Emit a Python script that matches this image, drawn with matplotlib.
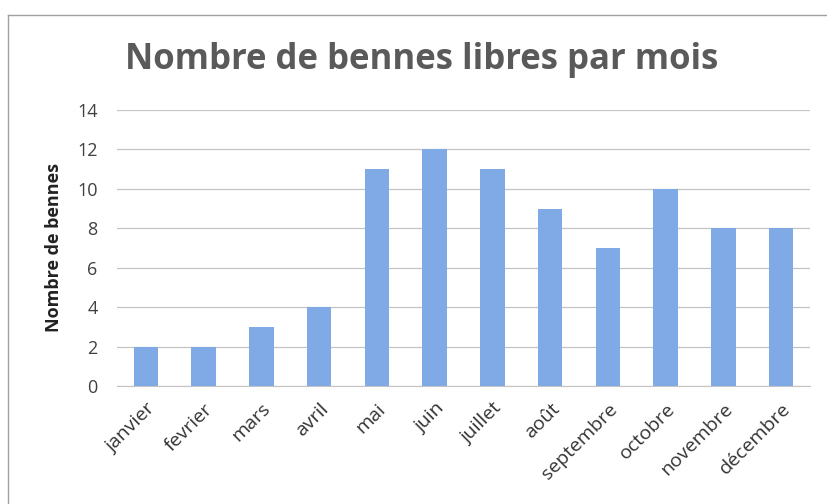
import matplotlib
matplotlib.use("Agg")
import matplotlib.pyplot as plt
from matplotlib.lines import Line2D

months = ["janvier", "fevrier", "mars", "avril", "mai", "juin", "juillet",
          "août", "septembre", "octobre", "novembre", "décembre"]
values = [2, 2, 3, 4, 11, 12, 11, 9, 7, 10, 8, 8]
yticks = [0, 2, 4, 6, 8, 10, 12, 14]

plt.rcParams['font.family'] = ['Open Sans', 'DejaVu Sans']

fig = plt.figure(figsize=(8.28, 5.04), dpi=100)
# scanned frame edges (top and left)
fig.lines.append(Line2D([8/828, 8/828], [0, 1 - 15/504], transform=fig.transFigure,
                        color="#a0a0a0", linewidth=1.0))
fig.lines.append(Line2D([8/828, 1], [1 - 15/504, 1 - 15/504], transform=fig.transFigure,
                        color="#a0a0a0", linewidth=1.0))
ax = fig.add_axes([117/828, 1 - 386/504, 693/828, (386 - 110)/504])

x = list(range(len(months)))
ax.bar(x, values, width=0.42, color="#80AAE6", zorder=3)
ax.set_xlim(-0.5, len(months) - 0.5)
ax.set_ylim(0, 14)
ax.set_yticks(yticks)
ax.set_yticklabels([str(t) for t in yticks], fontsize=13, color="#404040")
ax.set_xticks(x)
ax.set_xticklabels(months, rotation=45, ha="right", rotation_mode="anchor",
                   fontsize=14, color="#333333")
ax.tick_params(axis="y", length=0, pad=14)
ax.tick_params(axis="x", length=0, pad=10)
ax.grid(axis="y", color="#c4c4c4", linewidth=0.9, zorder=0)
for s in ["top", "right", "left"]:
    ax.spines[s].set_visible(False)
ax.spines["bottom"].set_color("#c4c4c4")
ax.set_ylabel("Nombre de bennes", fontsize=13, fontweight="bold", color="#222222", labelpad=10)

fig.text(422/828, 1 - 60/504, "Nombre de bennes libres par mois", ha="center", va="center",
         fontsize=25, fontweight="bold", color="#5a5a5a")

fig.savefig("out.png", dpi=100)
